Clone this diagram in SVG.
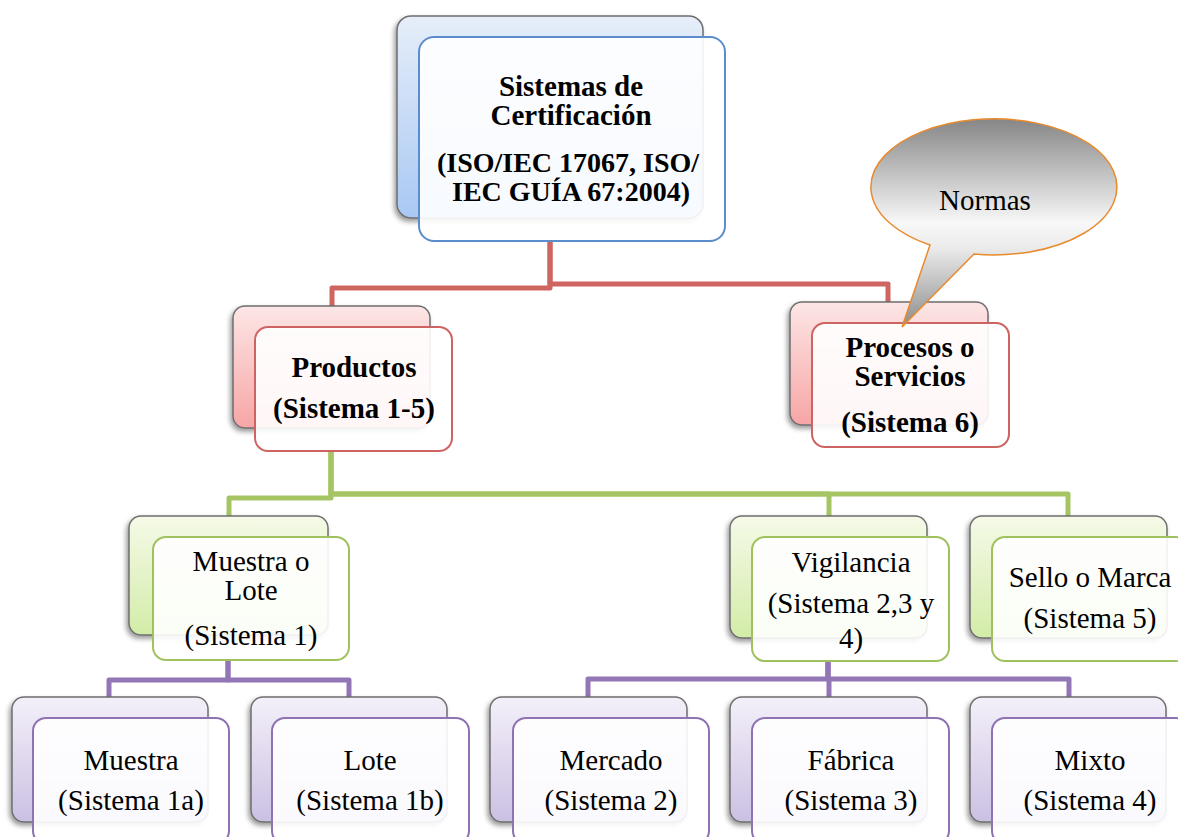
<svg xmlns="http://www.w3.org/2000/svg" width="1178" height="837" viewBox="0 0 1178 837">
  <defs>
    <linearGradient id="gBlue" x1="0" y1="0" x2="0" y2="1">
      <stop offset="0" stop-color="#e6eef9"/>
      <stop offset="1" stop-color="#a9c8f3"/>
    </linearGradient>
    <linearGradient id="gRed" x1="0" y1="0" x2="0" y2="1">
      <stop offset="0" stop-color="#fde6e6"/>
      <stop offset="1" stop-color="#f7a5a5"/>
    </linearGradient>
    <linearGradient id="gGreen" x1="0" y1="0" x2="0" y2="1">
      <stop offset="0" stop-color="#f5fae8"/>
      <stop offset="1" stop-color="#d3eca8"/>
    </linearGradient>
    <linearGradient id="gPurple" x1="0" y1="0" x2="0" y2="1">
      <stop offset="0" stop-color="#f4f0f9"/>
      <stop offset="1" stop-color="#cbc0e3"/>
    </linearGradient>
    <linearGradient id="gCallout" x1="0" y1="0" x2="0" y2="1">
      <stop offset="0" stop-color="#868686"/>
      <stop offset="0.5" stop-color="#f8f8f8"/>
      <stop offset="0.62" stop-color="#ebebeb"/>
      <stop offset="1" stop-color="#8c8c8c"/>
    </linearGradient>
    <filter id="shadow" x="-10%" y="-10%" width="120%" height="125%">
      <feDropShadow dx="-2" dy="3" stdDeviation="2.5" flood-color="#000" flood-opacity="0.4"/>
    </filter>
  </defs>
  <style>
    .back { stroke: #6e6e6e; stroke-width: 1.5; filter: url(#shadow); }
    .front { fill: #ffffff; fill-opacity: 0.9; stroke-width: 2; }
    .blue .back { fill: url(#gBlue); }
    .blue .front { stroke: #5b8ccb; }
    .red .back { fill: url(#gRed); }
    .red .front { stroke: #cd6461; }
    .green .back { fill: url(#gGreen); }
    .green .front { stroke: #9fc15e; }
    .purple .back { fill: url(#gPurple); }
    .purple .front { stroke: #8f72b4; }
    text { font-family: "Liberation Serif", "Times New Roman", serif; font-size: 29px; fill: #000; text-anchor: middle; }
    .b { font-weight: bold; }
    .iso { font-size: 28px; }
    .conn { fill: none; stroke-width: 5; stroke-linejoin: round; }
    .cr { stroke: #cf6560; }
    .cg { stroke: #a5c565; }
    .cp { stroke: #9376b6; }
  </style>

  <!-- connectors -->
  <g id="connectors">
    <path class="conn cr" d="M550,241 V288 H332 V307"/>
    <path class="conn cr" d="M550,241 V284 H888 V303"/>
    <path class="conn cg" d="M331,451 V498 H229 V517"/>
    <path class="conn cg" d="M331,451 V494 H829 V517"/>
    <path class="conn cg" d="M331,451 V494 H1068 V517"/>
    <path class="conn cp" d="M228,660 V680 H109 V698"/>
    <path class="conn cp" d="M228,660 V680 H349 V698"/>
    <path class="conn cp" d="M828,661 V679 H588 V698"/>
    <path class="conn cp" d="M828,661 V679 H829 V698"/>
    <path class="conn cp" d="M828,661 V679 H1069 V698"/>
  </g>

  <!-- root -->
  <g id="node-sistemas" class="blue">
    <rect class="back" x="397" y="16" width="306" height="202" rx="14"/>
    <rect class="front" x="419" y="37" width="306" height="204" rx="15"/>
    <text class="b" x="571" y="96">Sistemas de</text>
    <text class="b" x="571" y="125">Certificación</text>
    <text class="b iso" x="568" y="172">(ISO/IEC 17067, ISO/</text>
    <text class="b iso" x="571" y="201">IEC GUÍA 67:2004)</text>
  </g>

  <!-- second level -->
  <g id="node-productos" class="red">
    <rect class="back" x="233" y="306" width="197" height="122" rx="12"/>
    <rect class="front" x="255" y="327" width="197" height="124" rx="13"/>
    <text class="b" x="354" y="377">Productos</text>
    <text class="b" x="354" y="418">(Sistema 1-5)</text>
  </g>

  <g id="node-procesos" class="red">
    <rect class="back" x="790" y="302" width="198" height="123" rx="12"/>
    <rect class="front" x="812" y="323" width="197" height="124" rx="13"/>
    <text class="b" x="910" y="357">Procesos o</text>
    <text class="b" x="910" y="386">Servicios</text>
    <text class="b" x="910" y="432">(Sistema 6)</text>
  </g>

  <!-- callout -->
  <g id="callout-normas">
    <path d="M974,254 L902,327 L930,245 A123,68 0 1 1 974,254 Z" fill="url(#gCallout)" stroke="#e98a2c" stroke-width="1.5"/>
    <text x="985" y="210">Normas</text>
  </g>

  <!-- third level -->
  <g id="node-muestra-lote" class="green">
    <rect class="back" x="129" y="516" width="199" height="119" rx="12"/>
    <rect class="front" x="153" y="537" width="196" height="123" rx="13"/>
    <text x="251" y="571">Muestra o</text>
    <text x="251" y="600">Lote</text>
    <text x="251" y="645">(Sistema 1)</text>
  </g>

  <g id="node-vigilancia" class="green">
    <rect class="back" x="730" y="516" width="197" height="122" rx="12"/>
    <rect class="front" x="752" y="537" width="197" height="124" rx="13"/>
    <text x="851" y="572">Vigilancia</text>
    <text x="851" y="613">(Sistema 2,3 y</text>
    <text x="851" y="648">4)</text>
  </g>

  <g id="node-sello" class="green">
    <rect class="back" x="970" y="516" width="197" height="122" rx="12"/>
    <rect class="front" x="992" y="537" width="197" height="124" rx="13"/>
    <text x="1090" y="587">Sello o Marca</text>
    <text x="1090" y="628">(Sistema 5)</text>
  </g>

  <!-- fourth level -->
  <g id="node-muestra" class="purple">
    <rect class="back" x="12" y="697" width="196" height="125" rx="12"/>
    <rect class="front" x="33" y="718" width="196" height="126" rx="13"/>
    <text x="131" y="770">Muestra</text>
    <text x="131" y="810">(Sistema 1a)</text>
  </g>

  <g id="node-lote" class="purple">
    <rect class="back" x="251" y="697" width="196" height="125" rx="12"/>
    <rect class="front" x="272" y="718" width="197" height="126" rx="13"/>
    <text x="370" y="770">Lote</text>
    <text x="370" y="810">(Sistema 1b)</text>
  </g>

  <g id="node-mercado" class="purple">
    <rect class="back" x="490" y="697" width="197" height="125" rx="12"/>
    <rect class="front" x="513" y="718" width="196" height="126" rx="13"/>
    <text x="611" y="770">Mercado</text>
    <text x="611" y="810">(Sistema 2)</text>
  </g>

  <g id="node-fabrica" class="purple">
    <rect class="back" x="730" y="697" width="197" height="125" rx="12"/>
    <rect class="front" x="752" y="718" width="197" height="126" rx="13"/>
    <text x="851" y="770">Fábrica</text>
    <text x="851" y="810">(Sistema 3)</text>
  </g>

  <g id="node-mixto" class="purple">
    <rect class="back" x="970" y="697" width="196" height="125" rx="12"/>
    <rect class="front" x="992" y="718" width="197" height="126" rx="13"/>
    <text x="1090" y="770">Mixto</text>
    <text x="1090" y="810">(Sistema 4)</text>
  </g>
</svg>
